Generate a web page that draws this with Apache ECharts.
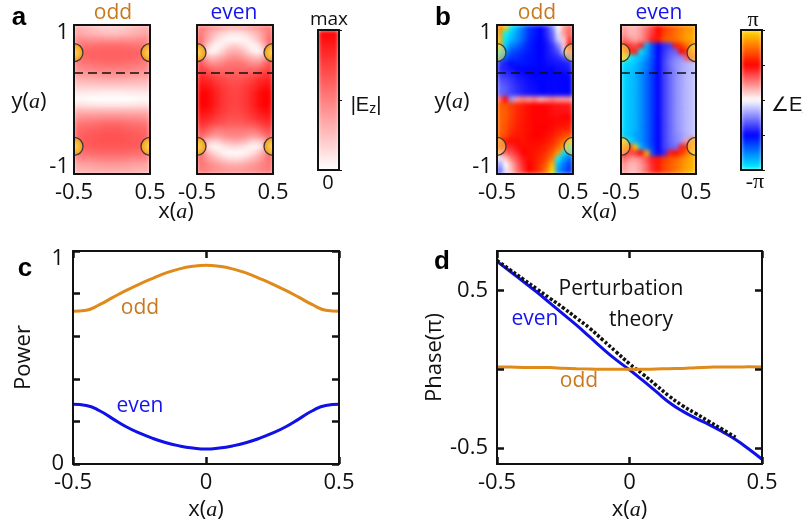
<!DOCTYPE html>
<html><head><meta charset="utf-8">
<style>html,body{margin:0;padding:0;background:#fff;width:803px;height:523px;overflow:hidden}
#fw{position:absolute;left:0;top:0;width:803px;height:523px;clip-path:path('M74 25H151V175H74Z M197 25H274V175H197Z M497 25H574V175H497Z M621 25H697V175H621Z M318 30H339V170H318Z M741 30H762V170H741Z')}
#field{width:803px;height:523px;filter:blur(2px)}
#main{position:absolute;left:0;top:0;width:803px;height:523px}</style>
<script src="https://cdn.jsdelivr.net/npm/echarts@6/dist/echarts.min.js"></script>
</head><body><div id="fw"><div id="field"></div></div><div id="main"></div>
<script>
// |Ez| fields, percent of max, rows top to bottom
const aOdd=[
[32,30,27,24,21,19,18,19,21,24,27,30,32],
[36,33,31,29,27,25,25,25,27,29,31,33,36],
[45,45,44,43,43,42,42,42,43,43,44,45,45],
[50,54,56,57,58,58,58,58,58,57,56,54,50],
[55,60,62,62,62,62,62,62,62,62,62,60,55],
[55,58,61,62,62,62,62,62,62,62,61,58,55],
[50,53,55,56,57,58,58,58,57,56,55,53,50],
[45,46,48,49,50,50,50,50,50,49,48,46,45],
[38,38,39,40,41,42,42,42,41,40,39,38,38],
[28,28,29,29,30,30,30,30,30,29,29,28,28],
[18,18,18,18,18,18,18,18,18,18,18,18,18],
[8,8,7,7,6,6,6,6,6,7,7,8,8],
[2,2,1,0,0,0,0,0,0,0,1,2,2],
[12,12,11,11,10,10,10,10,10,11,11,12,12],
[30,30,30,30,30,30,30,30,30,30,30,30,30],
[42,43,44,44,45,45,45,45,45,44,44,43,42],
[52,54,55,56,57,58,58,58,57,56,55,54,52],
[58,60,62,63,64,65,65,65,64,63,62,60,58],
[60,63,65,66,67,68,68,68,67,66,65,63,60],
[60,64,66,67,68,68,68,68,68,67,66,64,60],
[60,63,64,65,65,65,65,65,65,65,64,63,60],
[55,57,58,59,60,60,60,60,60,59,58,57,55],
[45,47,48,49,50,50,50,50,50,49,48,47,45],
[35,36,37,38,39,40,40,40,39,38,37,36,35],
[30,30,31,32,33,33,33,33,33,32,31,30,30]];
const aEven=[
[50,48,42,38,33,30,30,30,33,38,42,48,50],
[55,42,30,22,15,10,10,10,15,22,30,42,55],
[60,40,25,12,5,3,2,3,5,12,25,40,60],
[60,30,10,3,8,15,20,15,8,3,10,30,60],
[60,15,3,8,20,30,32,30,20,8,3,15,60],
[60,35,25,30,35,42,45,42,35,30,25,35,60],
[70,55,45,45,50,55,55,55,50,45,45,55,70],
[75,70,62,58,60,60,60,60,60,58,62,70,75],
[82,80,75,70,68,65,65,65,68,70,75,80,82],
[90,88,85,78,74,70,70,70,74,78,85,88,90],
[95,95,90,84,78,74,72,74,78,84,90,95,95],
[98,100,95,87,80,75,74,75,80,87,95,100,98],
[100,100,95,88,80,76,75,76,80,88,95,100,100],
[98,100,95,87,80,75,74,75,80,87,95,100,98],
[95,95,90,84,78,74,72,74,78,84,90,95,95],
[90,88,85,78,74,70,70,70,74,78,85,88,90],
[82,80,75,70,68,65,65,65,68,70,75,80,82],
[72,68,60,55,55,55,55,55,55,55,60,68,72],
[62,55,45,42,45,48,48,48,45,42,45,55,62],
[60,30,20,20,28,32,35,32,28,20,20,30,60],
[60,20,5,4,8,12,14,12,8,4,5,20,60],
[60,38,22,12,5,2,2,2,5,12,22,38,60],
[58,45,35,28,20,15,13,15,20,28,35,45,58],
[55,50,45,40,36,33,32,33,36,40,45,50,55],
[52,50,47,44,42,40,40,40,42,44,47,50,52]];
// phase fields in units of pi, rows top to bottom
const bOdd=[
[.8,.95,-.95,-.85,-.72,-.6,-.55,-.5,-.42,-.25,0,.2,.3],
[.85,-.98,-.9,-.8,-.7,-.6,-.55,-.5,-.42,-.3,-.05,.2,.3],
[.9,-.95,-.85,-.78,-.68,-.58,-.53,-.5,-.45,-.33,-.1,.1,.4],
[.9,-.9,-.75,-.7,-.62,-.56,-.52,-.5,-.47,-.4,-.25,.1,.5],
[-.95,-.8,-.65,-.62,-.58,-.55,-.52,-.5,-.47,-.42,-.35,-.1,.3],
[-.8,-.68,-.6,-.58,-.55,-.53,-.52,-.5,-.47,-.45,-.42,-.35,-.3],
[-.4,-.45,-.52,-.54,-.54,-.53,-.52,-.5,-.48,-.47,-.46,-.45,-.42],
[-.42,-.44,-.47,-.5,-.5,-.5,-.5,-.5,-.5,-.5,-.48,-.47,-.45],
[-.38,-.4,-.43,-.46,-.48,-.49,-.5,-.5,-.5,-.5,-.5,-.5,-.48],
[-.33,-.36,-.4,-.44,-.46,-.48,-.49,-.5,-.5,-.5,-.5,-.5,-.5],
[-.3,-.33,-.38,-.42,-.45,-.47,-.48,-.5,-.5,-.5,-.5,-.5,-.5],
[-.3,-.33,-.38,-.42,-.45,-.47,-.48,-.5,-.5,-.5,-.5,-.5,-.5],
[.3,.5,-.2,.2,.25,.2,.25,.15,.2,.25,.2,.2,.2],
[.7,.68,.62,.58,.55,.52,.5,.5,.5,.48,.47,.46,.45],
[.72,.7,.64,.58,.55,.52,.5,.5,.5,.48,.47,.47,.46],
[.72,.7,.63,.58,.55,.52,.5,.5,.5,.49,.49,.5,.5],
[.72,.69,.62,.57,.54,.52,.5,.5,.5,.5,.52,.53,.54],
[.72,.68,.6,.56,.54,.52,.5,.5,.5,.52,.55,.57,.58],
[.72,.66,.58,.55,.54,.52,.5,.5,.52,.55,.6,.65,.68],
[.65,.55,.52,.52,.54,.52,.52,.52,.55,.58,.66,.75,.85],
[.45,.42,.42,.48,.52,.53,.53,.55,.58,.63,.72,.88,-.95],
[.2,.3,.35,.42,.5,.53,.55,.57,.62,.7,.85,-.95,-.85],
[-.05,.1,.25,.35,.45,.52,.55,.6,.66,.78,-.98,-.8,-.7],
[-.2,0,.15,.3,.42,.5,.55,.62,.72,.92,-.85,-.72,-.62],
[-.3,-.05,.12,.28,.4,.5,.56,.64,.78,1,-.8,-.68,-.6]];
const bEven=[
[.2,.15,.15,.2,.28,.38,.5,.62,.68,.72,.78,.82,.85],
[.22,.15,.15,.2,.3,.4,.52,.65,.7,.75,.8,.85,.88],
[.3,.22,.18,.22,.32,.45,.55,.68,.72,.75,.8,.85,.88],
[.6,.4,.35,.45,-.85,-.65,-.5,-.42,-.38,.55,.62,.75,.85],
[.8,.6,.45,-.95,-.82,-.65,-.5,-.4,-.33,-.3,.5,.6,.8],
[.95,-.98,-.92,-.86,-.78,-.65,-.5,-.38,-.3,-.25,-.22,.35,.6],
[-.95,-.92,-.88,-.82,-.74,-.63,-.5,-.37,-.28,-.22,-.18,-.15,-.12],
[-.92,-.9,-.86,-.8,-.72,-.62,-.5,-.38,-.3,-.23,-.18,-.15,-.13],
[-.92,-.88,-.85,-.78,-.7,-.6,-.5,-.38,-.3,-.23,-.18,-.14,-.12],
[-.92,-.88,-.85,-.78,-.7,-.6,-.5,-.38,-.3,-.23,-.18,-.14,-.12],
[-.92,-.88,-.85,-.78,-.7,-.6,-.5,-.38,-.3,-.23,-.18,-.14,-.12],
[-.92,-.88,-.85,-.78,-.7,-.6,-.5,-.38,-.3,-.23,-.18,-.14,-.12],
[-.92,-.88,-.85,-.78,-.7,-.6,-.5,-.38,-.3,-.23,-.18,-.14,-.12],
[-.92,-.88,-.85,-.78,-.7,-.6,-.5,-.38,-.3,-.23,-.18,-.14,-.12],
[-.92,-.88,-.85,-.78,-.7,-.6,-.5,-.38,-.3,-.23,-.18,-.14,-.12],
[-.92,-.88,-.85,-.78,-.7,-.6,-.5,-.38,-.3,-.23,-.18,-.14,-.12],
[-.92,-.88,-.85,-.78,-.7,-.6,-.5,-.38,-.3,-.23,-.18,-.14,-.12],
[-.92,-.88,-.85,-.78,-.7,-.6,-.5,-.38,-.3,-.23,-.18,-.14,-.12],
[-.9,-.88,-.82,-.78,-.7,-.6,-.5,-.38,-.3,-.24,-.2,-.15,-.12],
[.9,-.95,-.85,-.78,-.7,-.6,-.5,-.38,-.3,-.25,-.2,.2,.7],
[.75,.6,.95,-.85,-.72,-.62,-.5,-.38,-.32,-.28,.45,.6,.8],
[.45,.35,.4,.5,.9,-.65,-.5,-.42,.45,.52,.62,.75,.88],
[.3,.22,.2,.25,.35,.45,.55,.62,.68,.72,.78,.85,.9],
[.22,.15,.15,.2,.3,.42,.55,.65,.7,.75,.8,.86,.9],
[.2,.14,.14,.2,.3,.42,.55,.65,.7,.76,.82,.88,.92]];
// profiles
const xProfile=[-.5,-.45,-.4,-.35,-.3,-.25,-.2,-.15,-.1,-.05,0,.05,.1,.15,.2,.25,.3,.35,.4,.45,.5];
const powerOdd=[.717,.722,.748,.782,.815,.845,.872,.897,.916,.928,.933,.928,.916,.897,.872,.845,.815,.782,.748,.722,.717];
const powerEven=[.28,.275,.25,.212,.175,.145,.12,.1,.085,.075,.07,.075,.085,.1,.12,.145,.175,.212,.25,.275,.28];
const phaseEven=[.684,.62,.555,.49,.42,.35,.28,.205,.13,.06,-.003,-.07,-.14,-.21,-.265,-.31,-.35,-.395,-.445,-.505,-.57];
const phaseOdd=[.015,.014,.012,.012,.011,.007,.004,.002,0,0,0,0,.002,.004,.006,.01,.013,.015,.015,.016,.015];
const phaseTheory=[.69,.63,.57,.51,.45,.39,.325,.26,.185,.11,.035,-.03,-.1,-.17,-.23,-.28,-.33,-.38,-.43];
const discX=[-.5,.5,-.5,.5];
const discY=[.63,.63,-.63,-.63];
const cutY=.356;
const phaseTicks=[-.5,0,.5];
const phaseLabels=[-.5,.5];
const magColors=['#ffffff','#ff0000'];
const phaseColors=['#00ffff','#0000ff','#ffffff','#ff0000','#ffe000'];

const SANS='"Open Sans"',SERIF='"Liberation Serif"';
const ORANGE='#e08a1a',ODDTXT='#c9781e',BLUE='#1010e8',EVENTXT='#1515ee';
const panels=[[74,25,76,149],[197,25,76,149],[497,25,76,149],[621,25,75,149]];
const box=p=>({left:p[0],top:p[1],width:p[2],height:p[3]});

// heat layer
const field=echarts.init(document.getElementById('field'),null,{renderer:'canvas'});
const fieldData=[aOdd,aEven,bOdd,bEven];
const idx=n=>Array.from({length:n},(_,i)=>i);
field.setOption({animation:false,
 grid:panels.map(box),
 xAxis:panels.map((p,i)=>({type:'category',gridIndex:i,data:idx(13),show:false})),
 yAxis:panels.map((p,i)=>({type:'category',gridIndex:i,data:idx(25),inverse:true,show:false})),
 visualMap:[
  {type:'continuous',min:0,max:100,seriesIndex:[0,1],inRange:{color:magColors},left:318,top:30,itemWidth:21,itemHeight:140,padding:0,text:null,calculable:false,hoverLink:false},
  {type:'continuous',min:-1,max:1,seriesIndex:[2,3],inRange:{color:phaseColors},left:741,top:30,itemWidth:21,itemHeight:140,padding:0,text:null,calculable:false,hoverLink:false}],
 series:fieldData.map((rows,i)=>({type:'heatmap',xAxisIndex:i,yAxisIndex:i,progressive:0,
   data:rows.flatMap((r,y)=>r.map((v,x)=>[x,y,v]))}))
});

// frame, curves and text layer
const main=echarts.init(document.getElementById('main'),null,{renderer:'canvas'});
const LS={color:'#111',width:2};
const TK={color:'#111',width:2.5};
const tl={fontFamily:SANS,fontSize:22,color:'#111'};
const isub={fontFamily:SERIF,fontStyle:'italic',fontSize:22,color:'#111'};
const grids=[...panels.map(box),box([318,30,21,140]),box([741,30,21,140]),box([73,251,266,213]),box([497,251,265,213])];
const noTick={show:false};
const xA=[],yA=[];
function fr(g,x,y,o={}){
 const base={gridIndex:g,type:'value',z:10,splitLine:{show:false},axisLine:{show:true,onZero:false,lineStyle:LS}};
 xA.push({...base,min:x[0],max:x[1],position:'bottom',interval:o.xi,axisTick:o.xt?{inside:true,length:7,lineStyle:TK}:noTick,
   axisLabel:o.xl?{...tl,margin:o.xm||8,formatter:o.xl,showMinLabel:true,showMaxLabel:true,hideOverlap:false}:{show:false},
   name:o.xn||'',nameLocation:'middle',nameGap:35,nameTextStyle:{...tl,rich:{i:isub}}});
 xA.push({...base,min:x[0],max:x[1],position:'top',interval:o.xi,axisTick:o.xt?{inside:true,length:7,lineStyle:TK}:noTick,axisLabel:{show:false}});
 const tickOpt=o.yc?{inside:true,length:7,lineStyle:TK,customValues:o.yc}:(o.yt?{inside:true,length:7,lineStyle:TK}:noTick);
 yA.push({...base,min:y[0],max:y[1],position:'left',interval:o.yi,axisTick:tickOpt,
   axisLabel:o.yl?{...tl,margin:o.ym||7,formatter:o.yl,showMinLabel:true,showMaxLabel:true,
     lineHeight:15,
     verticalAlignMaxLabel:o.yv?'top':undefined,verticalAlignMinLabel:o.yv===1?'bottom':undefined,
     ...(o.ycl?{customValues:o.ycl}:{})}:{show:false},
   name:o.yn||'',nameLocation:'middle',nameGap:o.yg||40,nameTextStyle:tl});
 yA.push({...base,min:y[0],max:y[1],position:'right',interval:o.ri||o.yi,
   axisTick:o.rt?{inside:false,length:o.rt,lineStyle:{color:'#111',width:1}}:tickOpt,axisLabel:{show:false}});
}
const edge=v=>(Math.abs(Math.abs(v)-.5)<1e-6?String(v):'');
const unit=v=>(Math.abs(Math.abs(v)-1)<1e-6?String(v):'');
fr(0,[-.5,.5],[-1,1],{xi:1,xl:edge,yi:2,yl:unit,yv:1,ym:5});
fr(1,[-.5,.5],[-1,1],{xi:1,xl:edge,yi:2});
fr(2,[-.5,.5],[-1,1],{xi:1,xl:edge,yi:2,yl:unit,yv:1,ym:5});
fr(3,[-.5,.5],[-1,1],{xi:1,xl:edge,yi:2});
fr(4,[0,1],[0,1],{xi:1,yi:1,ri:.5,rt:3});
fr(5,[0,1],[-1,1],{xi:1,yi:2,ri:.5,rt:3});
fr(6,[-.5,.5],[0,1],{xi:.5,xt:true,xl:v=>v===0?'0':String(v),xn:'x({i|a})',yi:.2,yt:true,yl:v=>(v===0||v===1)?String(v):'',yv:2,ym:9,yn:'Power',yg:38});
fr(7,[-.5,.5],[-.6,.75],{xi:.5,xt:true,xl:v=>v===0?'0':String(v),xn:'x({i|a})',yi:.25,yc:phaseTicks,ycl:phaseLabels,yl:v=>String(v),ym:9,yn:'Phase(π)',yg:42});
const series=[];
panels.forEach((p,i)=>{
 const xi=2*i,yi=2*i;
 series.push({type:'custom',xAxisIndex:xi,yAxisIndex:yi,silent:true,z:3,encode:{x:0,y:1},
  data:discX.map((x,k)=>[x,discY[k]]),
  renderItem:(params,api)=>{
    const c=api.coord([api.value(0),api.value(1)]);
    const right=api.value(0)>0,R=9;
    const fill=i<2?new echarts.graphic.RadialGradient(c[0],c[1],R,[{offset:0,color:'#ffdc60'},{offset:1,color:'#f49a1c'}],true):'rgba(255,225,90,.55)';
    return {type:'sector',shape:{cx:c[0],cy:c[1],r:R,r0:0,startAngle:right?Math.PI/2:-Math.PI/2,endAngle:right?Math.PI*1.5:Math.PI/2,clockwise:true},
      style:{fill,stroke:'#3a3a3a',lineWidth:1.3}};
  }});
 series.push({type:'line',xAxisIndex:xi,yAxisIndex:yi,symbol:'none',silent:true,z:4,
  data:[[-.5,cutY],[.5,cutY]],lineStyle:{color:'#111',width:1.5,type:[9,5]}});
});
const line=(g,ys,c,w,t)=>({type:'line',xAxisIndex:g*2,yAxisIndex:g*2,symbol:'none',smooth:true,z:5,data:ys.map((v,i)=>[xProfile[i],v]),lineStyle:{color:c,width:w,type:t||'solid'}});
series.push(line(6,powerOdd,ORANGE,3),line(6,powerEven,BLUE,3));
series.push(line(7,phaseEven,BLUE,3),line(7,phaseTheory,'#111',3.5,[3,2]),line(7,phaseOdd,ORANGE,3));

const T=(text,x,y,size,color,extra={})=>({type:'text',x,y,z:20,style:{text,fontSize:size,fontFamily:SANS,fill:color||'#111',textAlign:'center',textVerticalAlign:'middle',...extra}});
const rich={i:{fontFamily:SERIF,fontStyle:'italic',fontSize:22,fill:'#111'},s:{fontSize:14,fontFamily:'"Liberation Sans"',fill:'#111',verticalAlign:'bottom',padding:[8,0,0,0]}};
const B={fontFamily:'"Liberation Sans"',fontWeight:'bold'};
const LIB={fontFamily:'"Liberation Sans"',rich};
const graphicEls=[
 T('a',19,18,26,'#000',B),T('b',443,18,26,'#000',B),T('c',25,269,26,'#000',B),T('d',442,262,26,'#000',B),
 T('odd',113,13,21,ODDTXT),T('even',234,13,21,EVENTXT),T('odd',537,13,21,ODDTXT),T('even',659,13,21,EVENTXT),
 T('x({i|a})',176,212,22,'#111',{rich}),T('x({i|a})',599,212,22,'#111',{rich}),
 T('y({i|a})',29,102,22,'#111',{rich}),T('y({i|a})',452,102,22,'#111',{rich}),
 T('max',329,20,19),T('0',328,183,20),T('|E{s|z}|',366,105,20,'#111',LIB),
 T('π',753,20,22,'#111',{fontFamily:SERIF}),T('-π',755,182,22,'#111',{fontFamily:SERIF}),T('∠E{s|z}',771,105,20,'#111',{...LIB,textAlign:'left'}),
 T('odd',140,308,21,ODDTXT),T('even',140,406,21,EVENTXT),
 T('Perturbation',621,289,21),T('theory',641,320,21),T('even',535,319,21,EVENTXT),T('odd',579,381,21,ODDTXT)
];
main.setOption({animation:false,backgroundColor:'transparent',grid:grids,xAxis:xA,yAxis:yA,series,graphic:{elements:graphicEls}});
</script></body></html>
